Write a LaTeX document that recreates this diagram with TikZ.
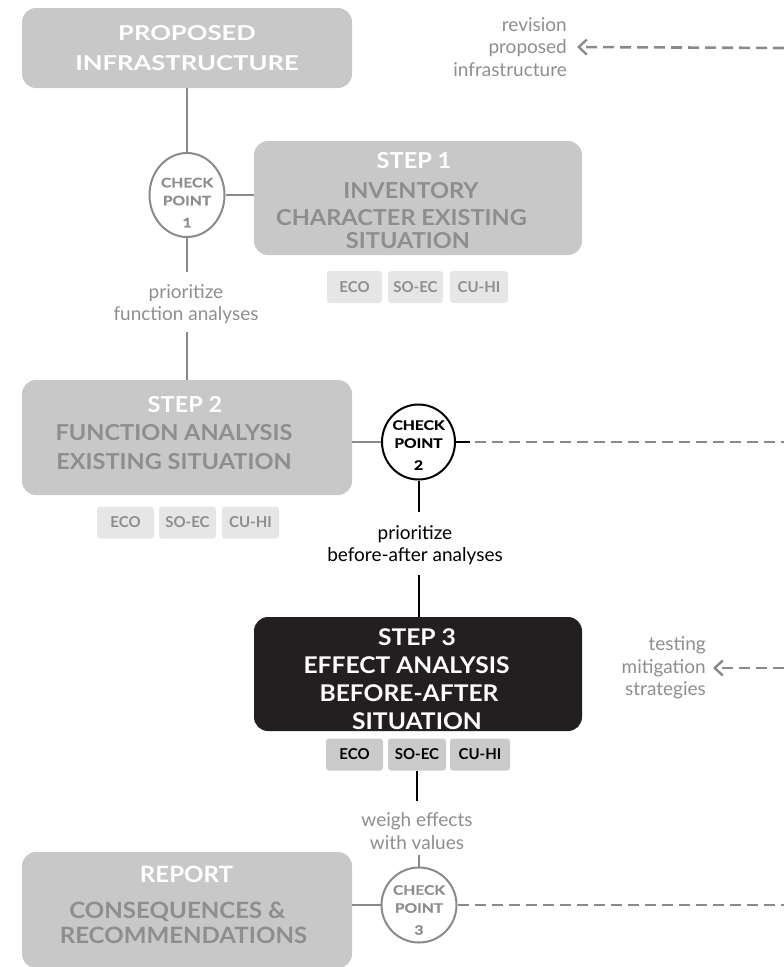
\documentclass[tikz,border=0pt]{standalone}
\usepackage{fontspec}
\setmainfont{Lato}
\newfontfamily\hdfont[FakeStretch=1.07]{Lato}
\newfontfamily\prfont[FakeStretch=1.25]{Lato}
\newfontfamily\cpfont[FakeStretch=1.2,FakeBold=1]{Lato}
\usetikzlibrary{shapes.geometric,arrows.meta}
\definecolor{boxgray}{HTML}{C8C8C9}
\definecolor{txtgray}{HTML}{8E8E8E}
\definecolor{taglight}{HTML}{E6E6E7}
\definecolor{tagmid}{HTML}{CACACB}
\definecolor{linegray}{HTML}{8A8A8A}
\definecolor{nearblack}{HTML}{231F20}
\begin{document}
\begin{tikzpicture}[x=1pt,y=-1pt,
  bigbox/.style={rectangle, rounded corners=14pt, fill=boxgray, inner sep=0pt},
  boxtext/.style={align=center, inner sep=0pt, text=txtgray},
  tag/.style={rectangle, rounded corners=3pt, fill=taglight, text=txtgray,
    inner sep=0pt, minimum height=32pt, font=\bfseries\fontsize{15}{16}\selectfont},
  cpoint/.style={ellipse, draw=linegray, line width=2pt, fill=white, inner sep=0pt},
  cptext/.style={align=center, inner sep=0pt, text=txtgray,
    font=\cpfont\bfseries\fontsize{13}{18}\selectfont},
  lbl/.style={align=center, inner sep=0pt, text=txtgray,
    font=\fontsize{19}{22.5}\selectfont},
  link/.style={draw=linegray, line width=2pt},
  blink/.style={draw=black, line width=2pt},
  dlink/.style={draw=linegray, line width=2.6pt, dash pattern=on 11pt off 6pt},
  back/.style={dlink, -{Straight Barb[length=8pt,width=15pt,line width=2.4pt]}}
]
\useasboundingbox (0,0) rectangle (784,967);

% ---- main boxes ----
\node[bigbox, minimum width=330pt, minimum height=80pt] (prop) at (187,48) {};
\node[boxtext, text=white, font=\prfont\bfseries\fontsize{20.5}{30.5}\selectfont]
  (propT) at (187,48) {PROPOSED\\INFRASTRUCTURE};

\node[bigbox, minimum width=328pt, minimum height=114pt] (s1) at (418,198) {};
\node[boxtext, font=\hdfont\bfseries\fontsize{22}{27}\selectfont] (s1T) at (401.5,201)
  {\hspace*{25pt}\textcolor{white}{STEP 1}\\[3pt]\hspace*{19pt}INVENTORY\\CHARACTER EXISTING\\[-4pt]\hspace*{13pt}SITUATION};

\node[bigbox, minimum width=330pt, minimum height=115pt] (s2) at (187,437.5) {};
\node[boxtext, font=\hdfont\bfseries\fontsize{22}{28.5}\selectfont] (s2T) at (174,433)
  {\hspace*{22pt}\textcolor{white}{STEP 2}\\FUNCTION ANALYSIS\\EXISTING SITUATION};

\node[bigbox, fill=nearblack, minimum width=328pt, minimum height=114pt] (s3) at (418,674) {};
\node[boxtext, text=white, font=\hdfont\bfseries\fontsize{23}{28}\selectfont] (s3T) at (417,679)
  {STEP 3\\EFFECT ANALYSIS\kern21pt\\BEFORE-AFTER\kern16pt\\SITUATION};

\node[bigbox, minimum width=330pt, minimum height=116pt] (rep) at (187,910) {};
\node[boxtext, font=\hdfont\bfseries\fontsize{22.5}{25}\selectfont] (repT) at (183.5,905)
  {\hspace*{6pt}\textcolor{white}{REPORT}\\[11pt]CONSEQUENCES \&\kern12pt\\RECOMMENDATIONS};

% ---- theme tags ----
\node[tag, minimum width=55pt] (t1a) at (354.5,287) {ECO};
\node[tag, minimum width=55pt] (t1b) at (415.5,287) {SO-EC};
\node[tag, minimum width=58pt] (t1c) at (479,287) {CU-HI};

\node[tag, minimum width=57pt] (t2a) at (125.5,522.5) {ECO};
\node[tag, minimum width=57pt] (t2b) at (187.5,522.5) {SO-EC};
\node[tag, minimum width=57pt] (t2c) at (250.5,522.5) {CU-HI};

\node[tag, fill=tagmid, text=black, minimum width=57pt] (t3a) at (354.5,754.5) {ECO};
\node[tag, fill=tagmid, text=black, minimum width=58pt] (t3b) at (417,754.5) {SO-EC};
\node[tag, fill=tagmid, text=black, minimum width=60pt] (t3c) at (480,754.5) {CU-HI};

% ---- checkpoints ----
\node[cpoint, minimum width=75pt, minimum height=84pt] (cp1) at (187,195) {};
\node[cptext] (cp1T) at (187,202.5) {CHECK\\POINT\\[4pt]1};
\node[cpoint, draw=black, minimum width=73pt, minimum height=75pt] (cp2) at (418.5,442) {};
\node[cptext, text=black] (cp2T) at (418.5,445) {CHECK\\POINT\\[4pt]2};
\node[cpoint, minimum width=75pt, minimum height=75pt] (cp3) at (419,905) {};
\node[cptext] (cp3T) at (419,910) {CHECK\\POINT\\[4pt]3};

% ---- labels ----
\node[lbl] (l1) at (186,304) {prioritize\\function analyses};
\node[lbl, text=black] (l2) at (415,545) {prioritize\\before-after analyses};
\node[lbl] (l3) at (417,831) {weigh effects\\with values};
\node[lbl, align=right, anchor=east] (rev) at (567,47)
  {revision\\proposed\\infrastructure};
\node[lbl, align=right, anchor=east] (test) at (706,668)
  {testing\\mitigation\\strategies};

% ---- free ends at the right margin ----
\coordinate (e0) at (784,48);
\coordinate (e2) at (784,442);
\coordinate (e3) at (784,668);
\coordinate (e4) at (784,905);
\coordinate (k2) at (470,442);

% ---- connectors ----
\draw[link] (prop) -- (cp1);
\draw[link] (cp1) -- (s1.west |- cp1);
\draw[link] (cp1.south) -- ([yshift=12pt]l1.north -| cp1);
\draw[link] ([yshift=-8pt]l1.south -| cp1) -- (s2.north -| cp1);

\draw[link] (s2.east |- cp2) -- (cp2.west);
\draw[blink] (cp2.east) -- (k2);
\draw[dlink] ([xshift=5pt]k2) -- (e2);
\draw[blink] (cp2.south) -- ([yshift=13pt]l2.north -| cp2);
\draw[blink] ([yshift=-10pt]l2.south -| cp2) -- (s3.north -| cp2);

\draw[blink] (t3b.south) -- ([yshift=11pt]l3.north -| t3b);
\draw[link] ([yshift=-5pt]l3.south -| cp3) -- (cp3.north);
\draw[link] (rep.east |- cp3) -- (cp3.west);
\draw[dlink] (cp3.east) -- (e4);

\draw[back] (e0) -- ([xshift=10pt]rev.east);
\draw[back] (e3) -- ([xshift=7pt]test.east);
\end{tikzpicture}
\end{document}
